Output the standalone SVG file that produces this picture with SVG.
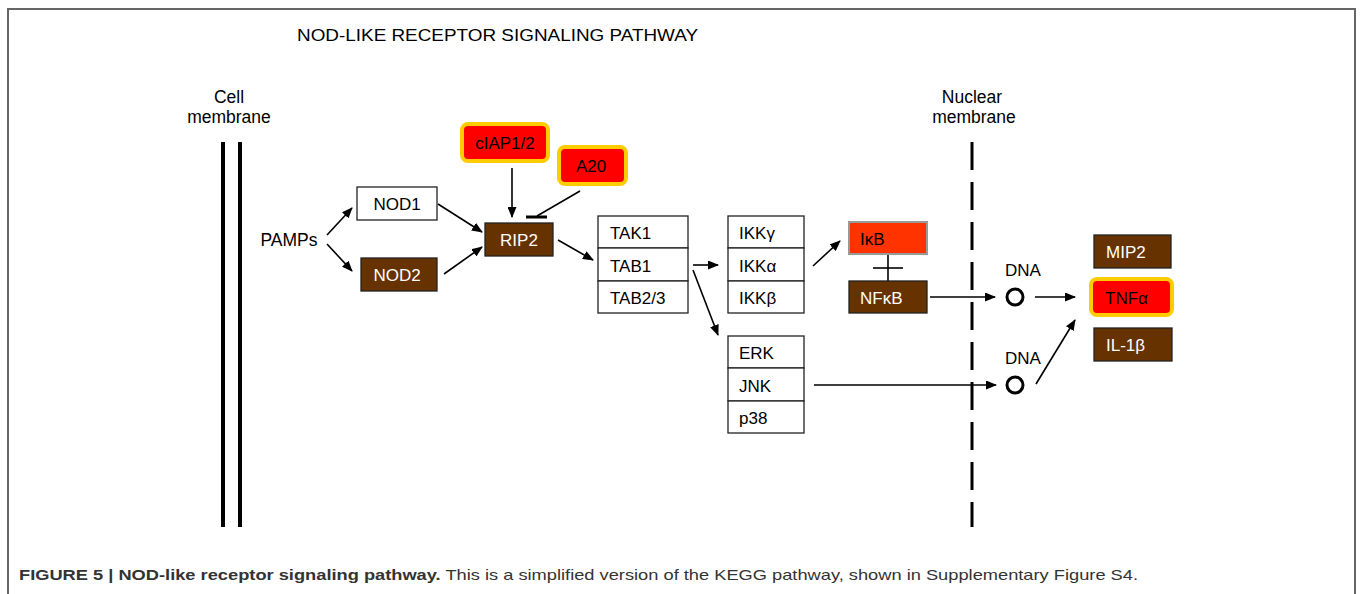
<svg xmlns="http://www.w3.org/2000/svg" width="1360" height="594" viewBox="0 0 1360 594">
<defs>
<marker id="ah" markerWidth="11" markerHeight="9" refX="10" refY="4.5" orient="auto" markerUnits="userSpaceOnUse">
<path d="M0,0 L11,4.5 L0,9 Z" fill="#000"/>
</marker>
<style>
text{font-family:"Liberation Sans",Arial,sans-serif;font-size:17px;fill:#000}
.lbl{font-size:17.5px}
.w{fill:#fff}
.box{fill:#fff;stroke:#222;stroke-width:1.3}
.brown{fill:#663300;stroke:#222;stroke-width:1.3}
.red{fill:#ff0000;stroke:#ffcc00;stroke-width:4}
.con{stroke:#000;stroke-width:1.6;fill:none}
.arr{stroke:#000;stroke-width:1.6;fill:none;marker-end:url(#ah)}
</style>
</defs>
<rect width="1360" height="594" fill="#fff"/>
<path d="M8,594 V9 H1355 V594" fill="none" stroke="#666" stroke-width="2"/>
<text x="297" y="41" style="font-size:17px" textLength="401" lengthAdjust="spacingAndGlyphs">NOD-LIKE RECEPTOR SIGNALING PATHWAY</text>

<g id="cell-membrane">
<text class="lbl" x="229" y="103" text-anchor="middle">Cell</text>
<text class="lbl" x="229" y="123" text-anchor="middle">membrane</text>
<line x1="223" y1="142" x2="223" y2="527" stroke="#000" stroke-width="4"/>
<line x1="240" y1="142" x2="240" y2="527" stroke="#000" stroke-width="4"/>
</g>
<g id="nuclear-membrane">
<text class="lbl" x="972" y="103" text-anchor="middle">Nuclear</text>
<text class="lbl" x="974" y="123" text-anchor="middle">membrane</text>
<line x1="972" y1="142" x2="972" y2="527" stroke="#000" stroke-width="3" stroke-dasharray="28 12"/>
</g>

<g id="connectors">
<line class="arr" x1="327" y1="235" x2="352" y2="208"/>
<line class="arr" x1="327" y1="244" x2="352" y2="271"/>
<line class="arr" x1="438" y1="204" x2="482" y2="232"/>
<line class="arr" x1="444" y1="274" x2="482" y2="247"/>
<line class="arr" x1="512" y1="168" x2="512" y2="217"/>
<line class="con" x1="580" y1="191" x2="537" y2="216"/>
<line x1="526" y1="217" x2="547" y2="217" stroke="#000" stroke-width="3"/>
<line class="arr" x1="558" y1="240" x2="593" y2="260"/>
<line class="arr" x1="693" y1="265" x2="718" y2="265"/>
<line class="arr" x1="693" y1="270" x2="718" y2="335"/>
<line class="arr" x1="813" y1="266" x2="840" y2="241"/>
<line class="con" x1="888" y1="254" x2="888" y2="281"/>
<line class="con" x1="873" y1="268" x2="903" y2="268"/>
<line class="arr" x1="930" y1="297" x2="995" y2="297"/>
<line class="arr" x1="814" y1="385" x2="996" y2="385"/>
<line class="arr" x1="1035" y1="297" x2="1075" y2="297"/>
<line class="arr" x1="1036" y1="384" x2="1075" y2="320"/>
</g>

<g id="PAMPs"><text class="lbl" x="289" y="246" text-anchor="middle">PAMPs</text></g>
<g id="NOD1"><rect class="box" x="357" y="187" width="80" height="33"/><text x="397" y="210" text-anchor="middle">NOD1</text></g>
<g id="NOD2"><rect class="brown" x="361" y="258" width="76" height="33"/><text class="w" x="397" y="281" text-anchor="middle">NOD2</text></g>
<g id="RIP2"><rect class="brown" x="485" y="223" width="68" height="33"/><text class="w" x="519" y="246" text-anchor="middle">RIP2</text></g>
<g id="cIAP12"><rect class="red" x="462" y="124" width="86" height="37" rx="6"/><text x="505" y="149" text-anchor="middle">cIAP1/2</text></g>
<g id="A20"><rect class="red" x="559" y="147" width="67" height="37" rx="6"/><text x="591" y="172" text-anchor="middle">A20</text></g>

<g id="TAK-complex">
<rect class="box" x="598" y="216" width="90" height="32"/>
<rect class="box" x="598" y="248" width="90" height="33"/>
<rect class="box" x="598" y="281" width="90" height="32"/>
<text x="610" y="239">TAK1</text>
<text x="610" y="272">TAB1</text>
<text x="610" y="304">TAB2/3</text>
</g>
<g id="IKK-complex">
<rect class="box" x="728" y="216" width="76" height="32"/>
<rect class="box" x="728" y="248" width="76" height="33"/>
<rect class="box" x="728" y="281" width="76" height="32"/>
<text x="739" y="239">IKKγ</text>
<text x="739" y="272">IKKα</text>
<text x="739" y="304">IKKβ</text>
</g>
<g id="MAPK">
<rect class="box" x="728" y="336" width="76" height="32"/>
<rect class="box" x="728" y="368" width="76" height="33"/>
<rect class="box" x="728" y="401" width="76" height="32"/>
<text x="739" y="359">ERK</text>
<text x="739" y="392">JNK</text>
<text x="739" y="424">p38</text>
</g>
<g id="IkB"><rect x="849" y="222" width="78" height="32" fill="#ff3300" stroke="#999" stroke-width="2"/><text x="860" y="245">IκB</text></g>
<g id="NFkB"><rect class="brown" x="849" y="281" width="78" height="32"/><text class="w" x="860" y="304">NFκB</text></g>

<g id="DNA1"><text x="1023" y="276" text-anchor="middle">DNA</text><circle cx="1015" cy="297" r="8" fill="none" stroke="#000" stroke-width="3"/></g>
<g id="DNA2"><text x="1023" y="364" text-anchor="middle">DNA</text><circle cx="1015" cy="385" r="8" fill="none" stroke="#000" stroke-width="3"/></g>

<g id="MIP2"><rect class="brown" x="1094" y="235" width="77" height="33"/><text class="w" x="1106" y="258">MIP2</text></g>
<g id="TNFa"><rect class="red" x="1091" y="279" width="81" height="36" rx="6"/><text x="1105" y="304">TNFα</text></g>
<g id="IL1b"><rect class="brown" x="1094" y="328" width="78" height="33"/><text class="w" x="1106" y="351">IL-1β</text></g>

<text x="19" y="580" style="font-size:15px;fill:#333" textLength="1119" lengthAdjust="spacingAndGlyphs"><tspan style="font-weight:bold">FIGURE 5 | NOD-like receptor signaling pathway.</tspan> This is a simplified version of the KEGG pathway, shown in Supplementary Figure S4.</text>
</svg>
